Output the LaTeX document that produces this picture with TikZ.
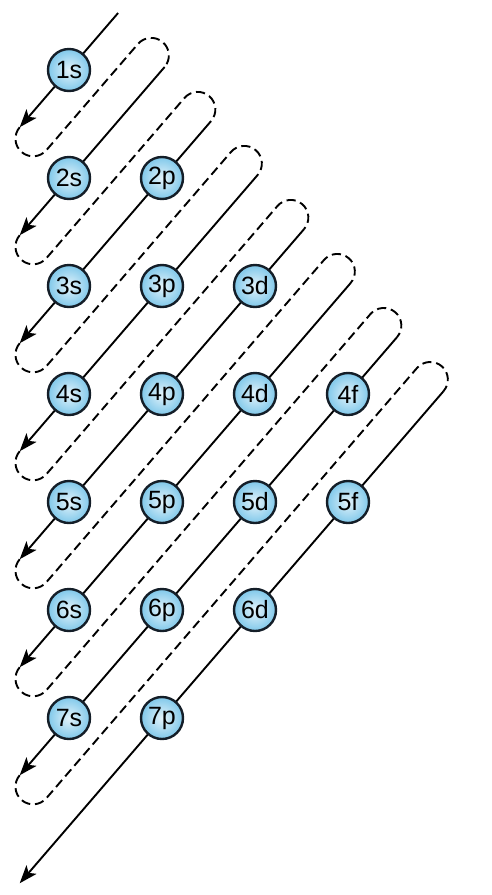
\documentclass[tikz,border=0pt]{standalone}
\usepackage{fontspec}
\setmainfont{Liberation Sans}
\usetikzlibrary{arrows.meta}
\definecolor{orbfill}{RGB}{128,200,234}
\definecolor{orbline}{RGB}{20,30,40}

\begin{document}
\begin{tikzpicture}[x=0.5pt,y=0.5pt,>={Stealth[length=9pt,width=6.6pt,inset=2.2pt]},
    orb/.style={circle,draw=orbline,line width=1.2pt,inner color=orbfill!22,outer color=orbfill,
      minimum size=21pt,inner sep=0pt,font=\fontsize{12.5}{14}\selectfont},
    diagline/.style={line width=0.95pt},
    backpath/.style={line width=0.95pt,dash pattern=on 4.6pt off 2.4pt}]
  \useasboundingbox (0,0) rectangle (492,-895);
  % filling order along the diagonals
  \foreach \k in {1,...,8}{
    \begin{scope}[shift={(69,{-70-108*(\k-1)})},rotate=49.26]
      \draw[diagline,->] ({71.25*\k+4},0) -- (-75.5,0);
    \end{scope}
  }
  % dashed returns to the next diagonal
  \foreach \k in {1,...,7}{
    \begin{scope}[shift={(69,{-70-108*(\k-1)})},rotate=49.26]
      \draw[backpath] (-75.5,0) arc[start angle=90,end angle=270,radius=17.6]
        -- ({71.25*\k-6.55},-35.25) arc[start angle=90,end angle=-90,radius=17.6];
    \end{scope}
  }
  % orbitals
  \foreach \n/\l/\sub in {1/0/s,2/0/s,2/1/p,3/0/s,3/1/p,3/2/d,4/0/s,4/1/p,4/2/d,4/3/f,
      5/0/s,5/1/p,5/2/d,5/3/f,6/0/s,6/1/p,6/2/d,7/0/s,7/1/p}
    \node[orb] (o\n\sub) at ({69+93*\l},{-70-108*(\n-1)}) {\n\sub};
\end{tikzpicture}
\end{document}
